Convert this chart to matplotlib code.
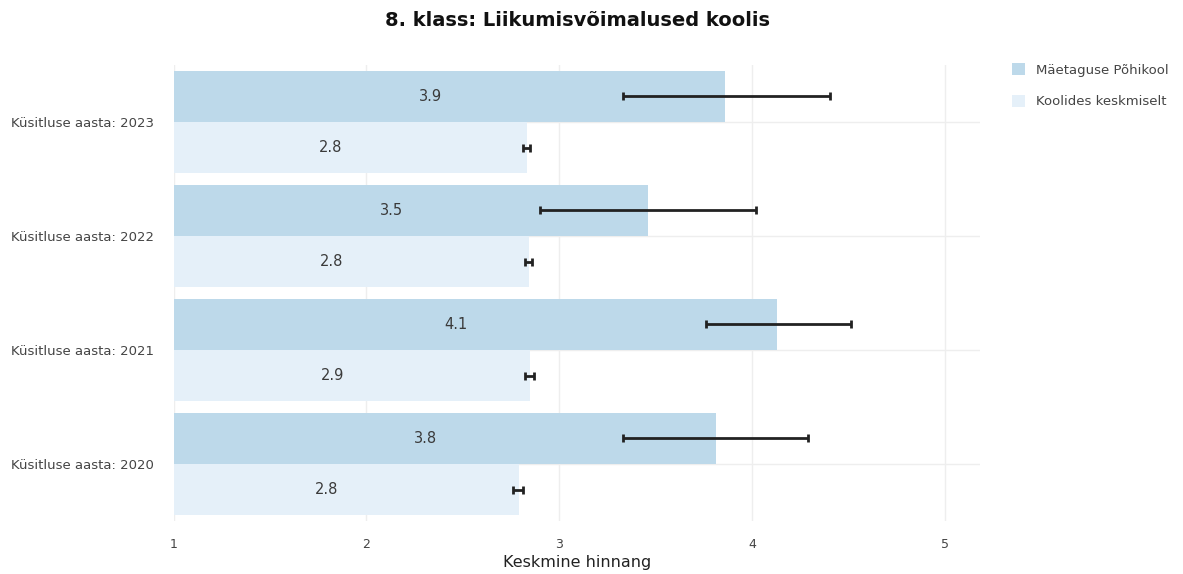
import numpy as np
import matplotlib
matplotlib.use('Agg')
import matplotlib.pyplot as plt

# andmed (loetud pildilt)
aastad = ['Küsitluse aasta: 2020', 'Küsitluse aasta: 2021',
          'Küsitluse aasta: 2022', 'Küsitluse aasta: 2023']
kool_nimi = 'Mäetaguse Põhikool'
keskm_nimi = 'Koolides keskmiselt'

kool = [3.81, 4.13, 3.46, 3.86]
kool_lo = [3.33, 3.76, 2.90, 3.33]
kool_hi = [4.29, 4.51, 4.02, 4.40]

keskm = [2.79, 2.85, 2.84, 2.83]
keskm_lo = [2.76, 2.82, 2.82, 2.81]
keskm_hi = [2.81, 2.87, 2.86, 2.85]

kool_tekst = ['3.8', '4.1', '3.5', '3.9']
keskm_tekst = ['2.8', '2.9', '2.8', '2.8']

c_kool = '#bdd9ea'
c_keskm = '#e5f0f9'

fig = plt.figure(figsize=(11.83, 5.74), dpi=100)
ax = fig.add_axes([0.1467, 0.0923, 0.6817, 0.7945])

y = np.arange(len(aastad))
h = 0.45
base = 1

# kooli tulbad (ülemine) ja keskmised (alumine)
ax.barh(y + h / 2, np.array(kool) - base, left=base, height=h, color=c_kool,
        label=kool_nimi, zorder=2)
ax.barh(y - h / 2, np.array(keskm) - base, left=base, height=h, color=c_keskm,
        label=keskm_nimi, zorder=2)

# veapiirid
ax.errorbar(kool, y + h / 2,
            xerr=[np.array(kool) - np.array(kool_lo), np.array(kool_hi) - np.array(kool)],
            fmt='none', ecolor='#222222', elinewidth=2, capsize=3, capthick=2, zorder=3)
ax.errorbar(keskm, y - h / 2,
            xerr=[np.array(keskm) - np.array(keskm_lo), np.array(keskm_hi) - np.array(keskm)],
            fmt='none', ecolor='#222222', elinewidth=2, capsize=3, capthick=2, zorder=3)

# tekstid tulpades
for i in range(len(aastad)):
    ax.text((base + kool[i]) / 2 - 0.1, y[i] + h / 2, kool_tekst[i],
            ha='center', va='center', fontsize=10.5, color='#3a3a3a', zorder=4)
    ax.text((base + keskm[i]) / 2 - 0.1, y[i] - h / 2, keskm_tekst[i],
            ha='center', va='center', fontsize=10.5, color='#3a3a3a', zorder=4)

ax.set_xlim(1, 5.18)
ax.set_ylim(-0.5, 3.5)
ax.set_yticks(y)
ax.set_yticklabels(aastad)
ax.set_xticks([1, 2, 3, 4, 5])
ax.set_xticklabels(['1', '2', '3', '4', '5'])
ax.tick_params(axis='y', length=0, pad=14, labelsize=9.5, labelcolor='#444444')
ax.tick_params(axis='x', length=0, pad=12, labelsize=9, labelcolor='#444444')
ax.grid(True, color='#eeeeee', linewidth=1, zorder=0)
ax.set_axisbelow(True)
for s in ax.spines.values():
    s.set_visible(False)

ax.set_xlabel('Keskmine hinnang', fontsize=11.5, color='#222222', labelpad=3)
fig.suptitle('8. klass: Liikumisvõimalused koolis', x=0.488, y=0.98,
             fontsize=14, fontweight='bold', color='#111111')

leg = ax.legend(loc='upper left', bbox_to_anchor=(1.025, 1.03), frameon=False,
                fontsize=9.5, handlelength=1, handleheight=1, labelspacing=1.4)
for t in leg.get_texts():
    t.set_color('#444444')

plt.savefig('out.png', dpi=100)
